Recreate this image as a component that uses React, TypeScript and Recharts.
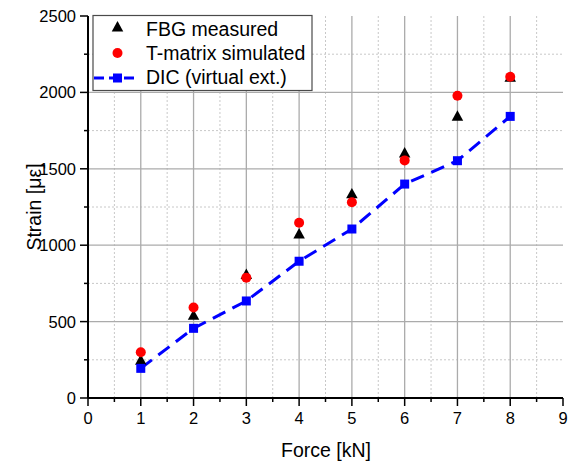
import React from "react";
import { ComposedChart, Line, XAxis, YAxis, CartesianGrid } from "recharts";

const forceKN = [1, 2, 3, 4, 5, 6, 7, 8];
const fbgMeasured = [244, 538, 805, 1070, 1333, 1600, 1841, 2095];
const tMatrixSimulated = [299, 592, 787, 1147, 1281, 1555, 1978, 2103];
const dicVirtualExt = [194, 456, 635, 895, 1106, 1400, 1553, 1843];

const xTicks = [0, 0.5, 1, 1.5, 2, 2.5, 3, 3.5, 4, 4.5, 5, 5.5, 6, 6.5, 7, 7.5, 8, 8.5, 9];
const yTicks = [0, 250, 500, 750, 1000, 1250, 1500, 1750, 2000, 2250, 2500];
const xMajorGrid = [1, 2, 3, 4, 5, 6, 7, 8];
const xMinorGrid = [0.5, 1.5, 2.5, 3.5, 4.5, 5.5, 6.5, 7.5, 8.5];
const yMajorGrid = [500, 1000, 1500, 2000];
const yMinorGrid = [250, 750, 1250, 1750, 2250];
const xDomain = [0, 9];
const yDomain = [0, 2500];

const data = forceKN.map((x, i) => ({
  x,
  fbg: fbgMeasured[i],
  tm: tMatrixSimulated[i],
  dic: dicVirtualExt[i],
}));

const FONT = "'Liberation Sans', Arial, sans-serif";
const W = 574;
const H = 463;
const MARGIN = { top: 16, right: 11, bottom: 25, left: 28 };
const Y_AXIS_W = 60;
const X_AXIS_H = 40;

const getOffset = (props: any) => {
  const o = props?.offset;
  if (o && typeof o.left === "number" && typeof o.width === "number") return o;
  const left = MARGIN.left + Y_AXIS_W;
  const top = MARGIN.top;
  return {
    left,
    top,
    width: W - left - MARGIN.right,
    height: H - top - MARGIN.bottom - X_AXIS_H,
  };
};

const mapX = (vals: number[]) => (props: any) => {
  const s = props?.xAxis?.scale;
  if (typeof s === "function") return vals.map((v) => s(v));
  const o = getOffset(props);
  return vals.map((v) => o.left + (o.width * (v - xDomain[0])) / (xDomain[1] - xDomain[0]));
};
const mapY = (vals: number[]) => (props: any) => {
  const s = props?.yAxis?.scale;
  if (typeof s === "function") return vals.map((v) => s(v));
  const o = getOffset(props);
  return vals.map((v) => o.top + o.height * (1 - (v - yDomain[0]) / (yDomain[1] - yDomain[0])));
};

const XTick = (p: any) => {
  const { x, y, payload } = p;
  const v = payload.value;
  const major = Number.isInteger(v);
  return (
    <g>
      <line x1={x} x2={x} y1={y} y2={y + (major ? 8 : 4)} stroke="#000" strokeWidth={1.5} />
      {major && (
        <text x={x} y={y + 26} textAnchor="middle" fontFamily={FONT} fontSize={16.5} fill="#000">
          {v}
        </text>
      )}
    </g>
  );
};

const YTick = (p: any) => {
  const { x, y, payload } = p;
  const v = payload.value;
  const major = v % 500 === 0;
  return (
    <g>
      <line x1={x} x2={x - (major ? 8 : 4)} y1={y} y2={y} stroke="#000" strokeWidth={1.5} />
      {major && (
        <text x={x - 12} y={y + 6} textAnchor="end" fontFamily={FONT} fontSize={16.5} fill="#000">
          {v}
        </text>
      )}
    </g>
  );
};

const triPath = (cx: number, cy: number, s: number) => {
  const h = s * 0.9;
  return `M${cx},${cy - h * 0.62} L${cx + s / 2},${cy + h * 0.38} L${cx - s / 2},${cy + h * 0.38} Z`;
};

const TriDot = (p: any) => {
  const { cx, cy, index } = p;
  if (cx == null || cy == null) return <g key={`t${index}`} />;
  return <path key={`t${index}`} d={triPath(cx, cy, 11.5)} fill="#000" />;
};
const CircDot = (p: any) => {
  const { cx, cy, index } = p;
  if (cx == null || cy == null) return <g key={`c${index}`} />;
  return <circle key={`c${index}`} cx={cx} cy={cy} r={5} fill="#ff0000" />;
};
const SqDot = (p: any) => {
  const { cx, cy, index } = p;
  if (cx == null || cy == null) return <g key={`s${index}`} />;
  return <rect key={`s${index}`} x={cx - 4.5} y={cy - 4.5} width={9} height={9} fill="#0000ff" />;
};

export default function App() {
  return (
    <div style={{ position: "absolute", left: 0, top: 0, width: W, height: H, background: "#fff" }}>
      <ComposedChart width={W} height={H} data={data} margin={MARGIN}>
        <CartesianGrid
          horizontalCoordinatesGenerator={mapY(yMinorGrid)}
          verticalCoordinatesGenerator={mapX(xMinorGrid)}
          stroke="#c8c8c8"
          strokeWidth={1}
          strokeDasharray="2 2"
        />
        <CartesianGrid
          horizontalCoordinatesGenerator={mapY(yMajorGrid)}
          verticalCoordinatesGenerator={mapX(xMajorGrid)}
          stroke="#ababab"
          strokeWidth={1.3}
        />
        <XAxis
          dataKey="x"
          type="number"
          domain={xDomain}
          ticks={xTicks}
          interval={0}
          height={X_AXIS_H}
          tickLine={false}
          tickSize={0}
          tickMargin={0}
          axisLine={{ stroke: "#000", strokeWidth: 2 }}
          tick={(p: any) => <XTick {...p} />}
          allowDecimals
        />
        <YAxis
          type="number"
          domain={yDomain}
          ticks={yTicks}
          interval={0}
          width={Y_AXIS_W}
          tickLine={false}
          tickSize={0}
          tickMargin={0}
          axisLine={{ stroke: "#000", strokeWidth: 2 }}
          tick={(p: any) => <YTick {...p} />}
        />
        <Line
          dataKey="fbg"
          stroke="none"
          strokeWidth={0}
          dot={TriDot}
          activeDot={false}
          isAnimationActive={false}
          legendType="none"
        />
        <Line
          dataKey="tm"
          stroke="none"
          strokeWidth={0}
          dot={CircDot}
          activeDot={false}
          isAnimationActive={false}
          legendType="none"
        />
        <Line
          dataKey="dic"
          type="linear"
          stroke="#0000ff"
          strokeWidth={3}
          strokeDasharray="14 8"
          dot={SqDot}
          activeDot={false}
          isAnimationActive={false}
          legendType="none"
        />
      </ComposedChart>
      <svg
        width={W}
        height={H}
        style={{ position: "absolute", left: 0, top: 0, pointerEvents: "none" }}
      >
        <rect x={93} y={15.5} width={219} height={75} fill="#fff" stroke="#4a4a4a" strokeWidth={1.2} />
        <path d={triPath(117.5, 27.5, 11.5)} fill="#000" />
        <circle cx={117.5} cy={53} r={5} fill="#ff0000" />
        <line x1={94} x2={135} y1={78} y2={78} stroke="#0000ff" strokeWidth={3} strokeDasharray="10 5" />
        <rect x={113} y={73.5} width={9} height={9} fill="#0000ff" />
        <g fontFamily={FONT} fontSize={19.5} fill="#000">
          <text x={146} y={36}>FBG measured</text>
          <text x={146} y={60}>T-matrix simulated</text>
          <text x={146} y={84}>DIC (virtual ext.)</text>
        </g>
        <text x={326} y={457} textAnchor="middle" fontFamily={FONT} fontSize={19.5} fill="#000">
          Force [kN]
        </text>
        <text
          transform="translate(41,207) rotate(-90)"
          textAnchor="middle"
          fontFamily={FONT}
          fontSize={19.5}
          fill="#000"
        >
          Strain [με]
        </text>
      </svg>
    </div>
  );
}
